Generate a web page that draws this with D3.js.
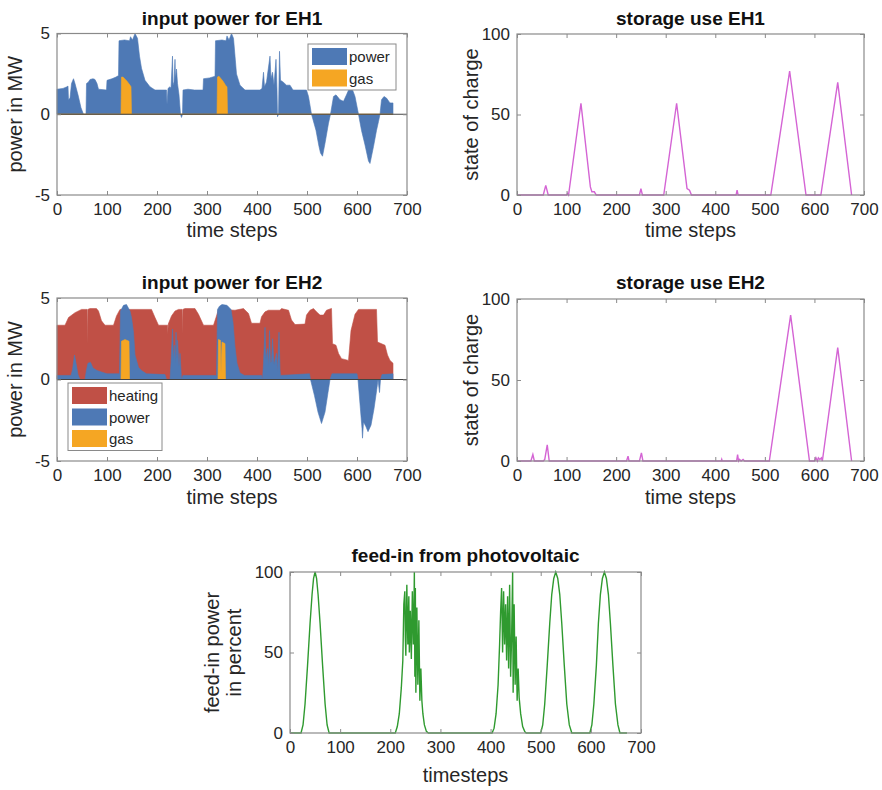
<!DOCTYPE html>
<html>
<head>
<meta charset="utf-8">
<script src="https://cdn.jsdelivr.net/npm/d3@7"></script>
<style>
  body { margin:0; background:#fff; }
  svg { display:block; font-family:"Liberation Sans", Arial, Helvetica, sans-serif; }
</style>
</head>
<body>
<script>
var width = 882, height = 790;

// ---- data: [time step, value] ----
var timeTicks = [0,100,200,300,400,500,600,700];
var powerTicks = [-5,0,5];
var socTicks = [0,50,100];

var eh1Power = [[0,1.55],[12,1.6],[20,1.7],[22,1.75],[23,0.9],[26,1.0],[29,1.9],[33,2.2],[36,1.9],[42,1.2],[48,0.4],[53,0],[58,0],[59,1.9],[63,2.0],[66,2.15],[72,2.2],[76,2.15],[80,1.9],[83,1.55],[99,1.5],[100,2.1],[110,2.2],[118,2.3],[123,2.4],[124,4.55],[135,4.6],[145,4.55],[147,4.8],[151,4.6],[156,5.0],[161,4.7],[165,3.6],[169,2.85],[176,2.1],[186,1.7],[196,1.5],[219,1.5],[220,0.6],[222,1.6],[226,1.7],[228,1.6],[231,3.6],[232,1.8],[234,2.0],[236,3.4],[237,2.2],[239,2.8],[241,1.9],[244,1.2],[247,0],[249,-0.2],[251,0],[252,1.5],[262,1.55],[275,1.5],[292,1.5],[293,2.2],[305,2.25],[316,2.35],[317,4.55],[330,4.6],[338,4.55],[340,4.85],[344,4.6],[349,5.0],[353,4.7],[356,3.6],[359,2.5],[366,1.8],[376,1.5],[406,1.5],[410,1.6],[413,2.6],[415,1.7],[419,2.0],[426,3.6],[428,2.2],[431,2.6],[434,1.8],[438,3.4],[440,1.5],[441,-0.15],[443,0],[445,3.9],[447,2.1],[452,2.0],[459,1.8],[466,1.8],[472,1.5],[499,1.5],[503,1.1],[509,0],[518,-1.0],[524,-2.0],[527,-2.4],[531,-2.6],[536,-1.8],[543,-0.55],[547,0],[553,1.1],[558,1.2],[566,0.9],[573,0.8],[579,1.2],[586,1.7],[590,1.6],[596,1.1],[603,0],[609,-1.0],[616,-1.9],[623,-2.9],[626,-3.05],[633,-2.0],[639,-1.0],[643,-0.45],[646,0],[649,0.9],[654,1.1],[659,1.0],[666,0.7],[672,0.7]];

var eh1Gas = [[0,0],[128,0],[129,2.3],[132,2.3],[140,2.05],[146,1.8],[148,1.7],[149,0],[320,0],[321,2.3],[324,2.35],[332,2.05],[338,1.75],[340,1.7],[341,0],[672,0]];

var eh2Heating = [[0,3.33],[16,3.33],[23,3.8],[36,4.1],[49,4.3],[60,4.3],[60.5,2.2],[61.5,4.3],[66,4.35],[79,4.35],[83,4.2],[89,3.6],[96,3.33],[113,3.33],[119,3.9],[126,4.3],[166,4.3],[189,4.3],[196,3.8],[203,3.33],[221,3.33],[221.5,2.8],[222.5,3.4],[229,3.9],[236,4.2],[243,4.3],[250,4.3],[250.5,2.8],[251.5,4.3],[256,4.35],[276,4.35],[283,4.0],[293,3.33],[313,3.33],[319,3.9],[323,4.3],[356,4.25],[373,4.35],[383,4.05],[389,3.45],[406,3.45],[409,3.85],[416,4.15],[423,4.25],[446,4.25],[449,4.35],[463,4.25],[469,3.65],[476,3.37],[496,3.4],[499,3.95],[506,4.25],[513,4.35],[519,4.15],[526,3.95],[533,3.95],[539,4.25],[549,4.36],[551,2.2],[558,2.1],[563,1.6],[569,1.28],[583,1.17],[588,3.0],[596,4.0],[603,4.3],[639,4.3],[641,2.3],[656,2.1],[661,1.5],[666,1.17],[672,1.0]];

var eh2Power = [[0,0.25],[28,0.25],[31,0.6],[35,1.5],[38,1.0],[42,0.3],[46,0],[56,0],[59,0.6],[62,1.0],[67,1.05],[72,0.7],[80,0.55],[90,0.45],[100,0.35],[125,0.35],[127,4.2],[133,4.55],[139,4.6],[146,4.2],[149,3.8],[153,2.9],[156,1.5],[163,0.75],[169,0.55],[179,0.35],[216,0.3],[219,0],[226,0],[228,1.0],[231,3.1],[233,1.2],[235,2.1],[237,1.0],[238,2.9],[240,1.3],[241,2.4],[244,0.8],[246,1.6],[249,0],[252,0.25],[319,0.25],[321,4.3],[325,4.5],[330,4.6],[340,4.55],[348,4.3],[352,3.5],[356,2.0],[360,1.0],[366,0.4],[375,0.25],[409,0.25],[411,0],[413,1.0],[416,3.2],[418,1.2],[421,1.9],[423,0.8],[425,3.0],[427,1.0],[429,1.1],[431,2.5],[434,0.9],[439,1.6],[441,0.5],[444,2.9],[446,0.6],[447,0.25],[505,0.35],[507,0],[515,-1.0],[522,-2.0],[529,-2.7],[536,-2.0],[542,-0.8],[546,0],[550,0.35],[600,0.35],[602,0],[606,-1.5],[610,-3.0],[611,-3.6],[613,-2.6],[618,-2.9],[622,-3.2],[628,-2.8],[634,-1.8],[640,-0.5],[642,0],[645,-0.8],[647,0],[650,0.3],[672,0.35]];

var eh2Gas = [[0,0],[128,0],[129,2.35],[136,2.45],[144,2.35],[145,0],[322,0],[323,2.45],[327,2.4],[328,0.4],[330,2.3],[336,2.2],[337,0],[672,0]];

var eh1Storage = [[0,0],[53,0],[58,6],[63,0],[100,0],[102,1],[104,0],[129,57],[148,5],[151,2],[156,2],[160,0],[247,0],[250,4],[253,0],[296,0],[322,57],[343,4],[348,3],[352,0],[442,0],[444,3],[446,0],[512,0],[550,77],[583,0],[613,0],[647,70],[675,0]];

var eh2Storage = [[0,0],[28,0],[32,4],[35,0],[53,0],[56,1],[61,10],[65,0],[221,0],[224,3],[226,0],[247,0],[251,5],[254,0],[412,0],[413,1],[414,0],[443,0],[445,4],[447,0],[449,1],[452,0],[456,1],[459,0],[509,0],[552,90],[590,0],[600,0],[603,2],[606,0],[608,2],[611,1],[614,2],[616,0],[647,70],[675,0]];

var pvFeedIn = [[0,0],[22,0],[26,5],[30,18],[35,42],[40,68],[44,86],[47,96],[50,100],[53,96],[56,86],[60,68],[65,42],[70,18],[74,5],[78,0],
  [210,0],[214,4],[218,12],[222,28],[225,45],[227,80],[229,88],[230,60],[231,48],[233,92],[235,55],[237,85],[238,50],[240,76],[242,46],[244,88],[246,55],[247,72],[248,100],[249,35],[250,90],[251,25],[253,78],[255,30],[257,70],[259,20],[261,40],[263,20],[265,12],[268,5],[272,1],[276,0],
  [403,0],[407,3],[411,12],[415,30],[418,55],[420,75],[422,90],[424,50],[426,88],[428,55],[430,80],[432,45],[434,85],[436,40],[438,92],[440,35],[442,60],[444,100],[445,25],[447,80],[449,30],[451,60],[453,20],[455,40],[457,22],[460,12],[464,4],[468,1],[471,0],
  [500,0],[504,5],[508,18],[513,42],[518,68],[522,86],[526,96],[530,100],[534,96],[538,86],[542,68],[547,42],[552,18],[557,5],[562,0],
  [598,0],[602,5],[606,18],[611,42],[615,68],[619,86],[623,96],[627,100],[631,96],[635,86],[639,68],[644,42],[649,18],[654,5],[658,0],[672,0]];

var colBlue = "#4e79b5", colRed = "#c05046", colGas = "#f5a623",
    colSoc = "#d464d4", colPv = "#2f9a2f", colBox = "#8a8a8a", colTxt = "#262626";

var svg = d3.select("body").append("svg")
    .attr("width", width)
    .attr("height", height);

// plain hyphen for negatives, like the original
var fmt = function(d){ return String(d); };

// one axes box in the MATLAB look: box, ticks inside on all four sides
var makePanel = function(p){
    var g = svg.append("g");
    var x = d3.scaleLinear().domain([0,700]).range([p.left, p.right]);
    var y = d3.scaleLinear().domain(p.yDomain).range([p.bottom, p.top]);

    g.append("rect")
        .attr("x", p.left).attr("y", p.top)
        .attr("width", p.right-p.left).attr("height", p.bottom-p.top)
        .style("fill", "#fff");

    var plot = g.append("g");

    var ax = g.append("g").attr("class","axes");
    ax.append("g").attr("transform","translate(0,"+p.bottom+")")
        .call(d3.axisBottom(x).tickValues(timeTicks).tickSize(-4).tickPadding(8).tickFormat(fmt));
    ax.append("g").attr("transform","translate(0,"+p.top+")")
        .call(d3.axisTop(x).tickValues(timeTicks).tickSize(-4).tickFormat(""));
    ax.append("g").attr("transform","translate("+p.left+",0)")
        .call(d3.axisLeft(y).tickValues(p.yTicks).tickSize(-4).tickPadding(7).tickFormat(fmt));
    ax.append("g").attr("transform","translate("+p.right+",0)")
        .call(d3.axisRight(y).tickValues(p.yTicks).tickSize(-4).tickFormat(""));
    ax.selectAll(".domain").remove();
    ax.selectAll(".tick line").style("stroke", colBox);
    ax.selectAll(".tick text").style("font-size","17px").style("fill", colTxt);
    ax.append("rect")
        .attr("x", p.left).attr("y", p.top)
        .attr("width", p.right-p.left).attr("height", p.bottom-p.top)
        .style("fill","none").style("stroke", colBox).style("stroke-width",1.2);

    g.append("text")
        .attr("x", (p.left+p.right)/2).attr("y", p.titleY)
        .attr("text-anchor","middle")
        .style("font-size","19px").style("font-weight","bold").style("fill","#111")
        .text(p.title);

    g.append("text")
        .attr("x", (p.left+p.right)/2).attr("y", p.xLabelY)
        .attr("text-anchor","middle")
        .style("font-size","20px").style("fill", colTxt)
        .text(p.xLabel);

    var cy = (p.top+p.bottom)/2;
    p.yLabel.forEach(function(line, i){
        g.append("text")
            .attr("transform","translate("+p.yLabelX[i]+","+cy+") rotate(-90)")
            .attr("text-anchor","middle")
            .style("font-size","20px").style("fill", colTxt)
            .text(line);
    });

    return {g: g, plot: plot, x: x, y: y, p: p};
};

var drawArea = function(panel, data, color){
    var area = d3.area()
        .x(function(d){ return panel.x(d[0]); })
        .y0(panel.y(0))
        .y1(function(d){ return panel.y(d[1]); });
    panel.plot.append("path")
        .datum(data)
        .attr("d", area)
        .style("fill", color)
        .style("stroke", color)
        .style("stroke-width", 0.6);
};

var drawLine = function(panel, data, color){
    var line = d3.line()
        .x(function(d){ return panel.x(d[0]); })
        .y(function(d){ return panel.y(d[1]); });
    panel.plot.append("path")
        .datum(data)
        .attr("d", line)
        .style("fill","none")
        .style("stroke", color)
        .style("stroke-width", 1.4);
};

var drawBaseline = function(panel){
    panel.plot.append("line")
        .attr("x1", panel.p.left).attr("x2", panel.p.right)
        .attr("y1", panel.y(0)).attr("y2", panel.y(0))
        .style("stroke","#444").style("stroke-width",1.2);
};

var drawLegend = function(panel, bx, by, bw, items){
    var rowH = 21.5;
    var lg = panel.g.append("g");
    lg.append("rect")
        .attr("x", bx).attr("y", by)
        .attr("width", bw).attr("height", items.length*rowH + 3)
        .style("fill","#fff").style("stroke", colBox).style("stroke-width",1);
    items.forEach(function(it, i){
        var ry = by + 4 + i*rowH;
        lg.append("rect")
            .attr("x", bx+4).attr("y", ry)
            .attr("width", 35).attr("height", 17)
            .style("fill", it[1]);
        lg.append("text")
            .attr("x", bx+41).attr("y", ry+14)
            .style("font-size","15px").style("fill", colTxt)
            .text(it[0]);
    });
};

// ---- panels ----
var pEH1 = makePanel({left:57, right:407, top:33.5, bottom:195, yDomain:[-5,5], yTicks:powerTicks,
    title:"input power for EH1", titleY:25, xLabel:"time steps", xLabelY:237,
    yLabel:["power in MW"], yLabelX:[22]});
var pS1 = makePanel({left:517, right:864, top:34, bottom:195, yDomain:[0,100], yTicks:socTicks,
    title:"storage use EH1", titleY:25, xLabel:"time steps", xLabelY:237,
    yLabel:["state of charge"], yLabelX:[478]});
var pEH2 = makePanel({left:57, right:407, top:298, bottom:461, yDomain:[-5,5], yTicks:powerTicks,
    title:"input power for EH2", titleY:289, xLabel:"time steps", xLabelY:504,
    yLabel:["power in MW"], yLabelX:[22]});
var pS2 = makePanel({left:517, right:864, top:299, bottom:461, yDomain:[0,100], yTicks:socTicks,
    title:"storage use EH2", titleY:289, xLabel:"time steps", xLabelY:504,
    yLabel:["state of charge"], yLabelX:[478]});
var pPV = makePanel({left:290, right:641, top:572, bottom:733, yDomain:[0,100], yTicks:socTicks,
    title:"feed-in from photovoltaic", titleY:562, xLabel:"timesteps", xLabelY:782,
    yLabel:["feed-in power","in percent"], yLabelX:[219,241]});

drawArea(pEH1, eh1Power, colBlue);
drawArea(pEH1, eh1Gas, colGas);
drawBaseline(pEH1);
drawLegend(pEH1, 308, 44, 88, [["power", colBlue], ["gas", colGas]]);

drawArea(pEH2, eh2Heating, colRed);
drawArea(pEH2, eh2Power, colBlue);
drawArea(pEH2, eh2Gas, colGas);
drawBaseline(pEH2);
drawLegend(pEH2, 68, 383, 94, [["heating", colRed], ["power", colBlue], ["gas", colGas]]);

drawLine(pS1, eh1Storage, colSoc);
drawLine(pS2, eh2Storage, colSoc);
drawLine(pPV, pvFeedIn, colPv);
</script>
</body>
</html>
